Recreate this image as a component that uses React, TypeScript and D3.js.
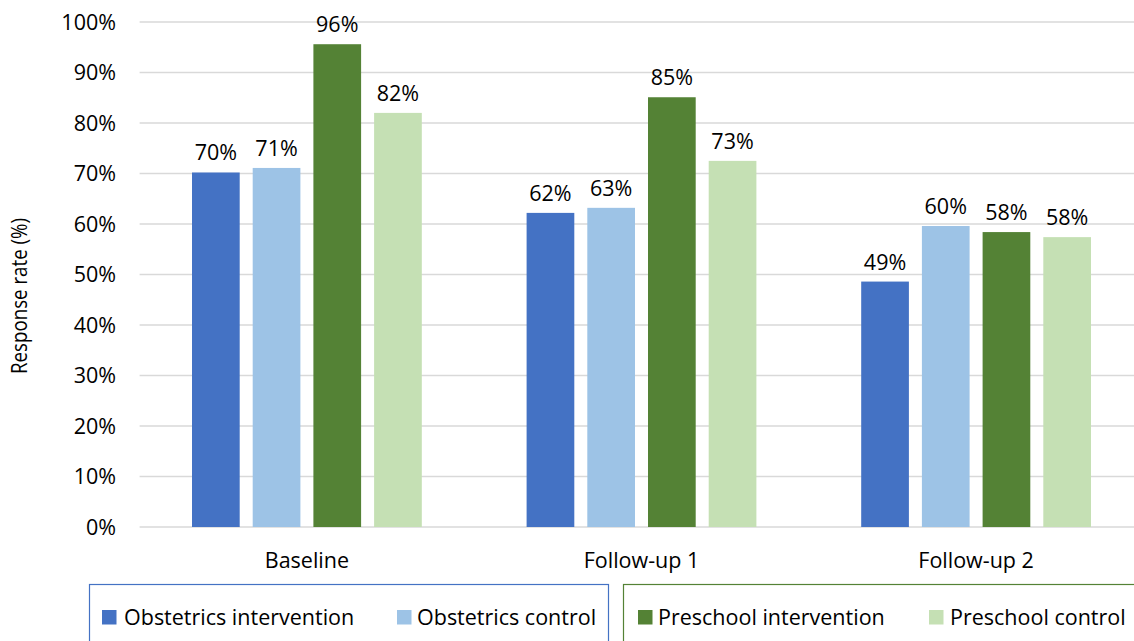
import React from "react";
import * as d3 from "d3";

const categories = ["Baseline", "Follow-up 1", "Follow-up 2"];
const seriesNames = [
  "Obstetrics intervention",
  "Obstetrics control",
  "Preschool intervention",
  "Preschool control",
];
const obstetricsIntervention = [70.2, 62.2, 48.6];
const obstetricsControl = [71.1, 63.2, 59.6];
const preschoolIntervention = [95.6, 85.1, 58.4];
const preschoolControl = [82.0, 72.5, 57.4];
const labels = [
  ["70%", "62%", "49%"],
  ["71%", "63%", "60%"],
  ["96%", "85%", "58%"],
  ["82%", "73%", "58%"],
];
const yTicks = [0, 10, 20, 30, 40, 50, 60, 70, 80, 90, 100];
const colors = ["#4472C4", "#9DC3E6", "#548235", "#C5E0B4"];

const W = 1134;
const H = 641;
const FONT = "'Open Sans', sans-serif";

export default function App() {
  const series = [
    obstetricsIntervention,
    obstetricsControl,
    preschoolIntervention,
    preschoolControl,
  ];
  const y = d3.scaleLinear().domain([0, 100]).range([527, 22]);
  const x0 = d3
    .scaleBand<string>()
    .domain(categories)
    .range([139.6, 1143.4])
    .paddingInner(0)
    .paddingOuter(0);
  const step = x0.bandwidth();
  const barW = 47.7;
  const pitch = 60.7;
  const x1 = d3
    .scaleLinear()
    .domain([0, 3])
    .range([-1.5 * pitch - barW / 2, 1.5 * pitch - barW / 2]);

  return (
    <div style={{ position: "absolute", left: 0, top: 0 }}>
      <svg width={W} height={H} style={{ display: "block", background: "#fff" }}>
        {yTicks.map((t) => (
          <g key={t}>
            <line
              x1={139.6}
              x2={W}
              y1={y(t)}
              y2={y(t)}
              stroke="#d9d9d9"
              strokeWidth={1.3}
            />
            <text
              x={116}
              y={y(t)}
              dy="0.36em"
              textAnchor="end"
              fontFamily={FONT}
              fontSize={21.5}
              fill="#000"
            >
              {t + "%"}
            </text>
          </g>
        ))}
        {series.map((vals, si) =>
          vals.map((v, ci) => {
            const cx = (x0(categories[ci]) as number) + step / 2;
            const bx = cx + x1(si);
            return (
              <g key={si + "-" + ci}>
                <rect
                  x={bx}
                  y={y(v)}
                  width={barW}
                  height={y(0) - y(v)}
                  fill={colors[si]}
                />
                <text
                  x={bx + barW / 2}
                  y={y(v) - 12}
                  textAnchor="middle"
                  fontFamily={FONT}
                  fontSize={21.5}
                  fill="#000"
                >
                  {labels[si][ci]}
                </text>
              </g>
            );
          })
        )}
        {categories.map((c) => (
          <text
            key={c}
            x={(x0(c) as number) + step / 2}
            y={568}
            textAnchor="middle"
            fontFamily={FONT}
            fontSize={21.5}
            fill="#000"
          >
            {c}
          </text>
        ))}
        <text
          transform={`translate(27,296) rotate(-90)`}
          textAnchor="middle"
          fontFamily={FONT}
          fontSize={21}
          textLength={156}
          lengthAdjust="spacingAndGlyphs"
          fill="#000"
        >
          Response rate (%)
        </text>
        {/* Legend boxes */}
        <rect x={89.5} y={584.5} width={519} height={70} fill="none" stroke="#4472C4" strokeWidth={1.2} />
        <rect x={623.5} y={584.5} width={530} height={70} fill="none" stroke="#548235" strokeWidth={1.2} />
        {[
          { sq: 102, tx: 124 },
          { sq: 397, tx: 417 },
          { sq: 638, tx: 658 },
          { sq: 929, tx: 950 },
        ].map((p, i) => (
          <g key={i}>
            <rect x={p.sq} y={610} width={14.5} height={14.5} fill={colors[i]} />
            <text
              x={p.tx}
              y={625}
              fontFamily={FONT}
              fontSize={21.5}
              fill="#000"
            >
              {seriesNames[i]}
            </text>
          </g>
        ))}
      </svg>
    </div>
  );
}
